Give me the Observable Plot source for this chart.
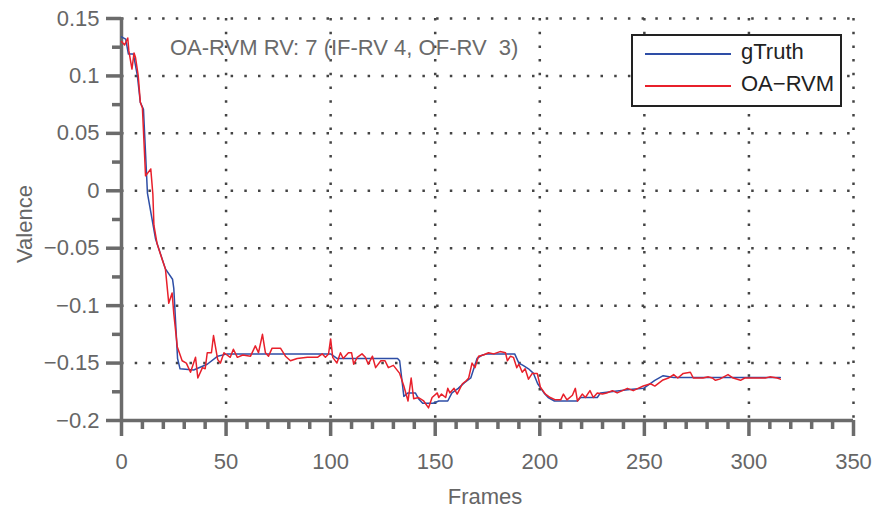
<!DOCTYPE html>
<html>
<head>
<meta charset="utf-8">
<script src="https://cdn.jsdelivr.net/npm/d3@7"></script>
<script src="https://cdn.jsdelivr.net/npm/@observablehq/plot@0.6"></script>
<style>
  html, body { margin: 0; padding: 0; background: #fff; }
  #wrap { position: relative; width: 877px; height: 511px; font-family: "Liberation Sans", Arial, sans-serif; overflow: hidden; }
  .ov { position: absolute; white-space: pre; }
</style>
</head>
<body>
<div id="wrap"></div>
<script>
// ---- data ----
const gtFrames = [0, 2, 3.3, 5.7, 7.6, 9, 10.5, 12.4, 16.3, 21, 24.4, 25, 26.8, 28, 34.5, 41, 46, 50.6, 100, 103, 132, 133, 135, 137, 140.5, 142, 144, 149, 151.7, 156, 158, 161, 164, 167, 170, 172.5, 175, 188, 190, 192, 194.6, 197, 199, 202, 204, 207, 218, 219.5, 227.5, 229, 243, 249.6, 255, 259, 264, 315];
const gtValues = [0.134, 0.132, 0.119, 0.119, 0.100, 0.077, 0.071, -0.002, -0.042, -0.068, -0.077, -0.085, -0.146, -0.155, -0.156, -0.151, -0.144, -0.142, -0.142, -0.146, -0.146, -0.148, -0.179, -0.176, -0.176, -0.181, -0.185, -0.185, -0.183, -0.183, -0.176, -0.172, -0.167, -0.163, -0.146, -0.143, -0.142, -0.142, -0.150, -0.152, -0.155, -0.159, -0.168, -0.176, -0.180, -0.183, -0.183, -0.180, -0.180, -0.176, -0.173, -0.172, -0.165, -0.161, -0.1625, -0.1625];

const rvmFrames = [0, 1.5, 3, 3.5, 5, 6, 6.7, 8, 9, 10, 11.5, 14, 15, 15.5, 17, 19.5, 21, 22.6, 24.2, 25, 26.7, 29, 31, 33, 35.4, 36.5, 38.7, 40, 41, 43, 44, 46, 47.3, 49, 52, 53.5, 55.4, 58, 61.7, 64, 65.5, 67.4, 68.8, 70.3, 72, 76, 78.4, 80.8, 84, 88.9, 93.7, 96, 97.5, 99, 100, 101, 103, 104.7, 106, 108.5, 110, 111, 112.7, 115, 116.6, 118, 120, 121.5, 124, 126, 127.6, 130, 133, 135, 137, 138.5, 139.7, 142, 144.5, 146.8, 148.5, 151, 151.7, 153, 155, 156, 157, 159, 160.5, 163, 164.5, 166, 167.6, 169, 170.7, 173, 175.5, 178, 181, 183.6, 184.5, 186, 187.4, 189, 190, 191.6, 193, 194.6, 196.4, 198.8, 200.3, 202.7, 205, 207.5, 210, 211.3, 213, 215.6, 217, 218, 220.3, 221.8, 224, 225.6, 227.5, 229.9, 232, 234.7, 237, 239.5, 241.9, 244.7, 247, 249.5, 253, 255, 258.6, 261.5, 264, 266, 268.6, 272, 273.4, 278, 280.6, 282.5, 284, 286, 290, 292.5, 296, 298, 302, 307.8, 310, 313.5, 315];
const rvmValues = [0.130, 0.127, 0.133, 0.122, 0.106, 0.120, 0.116, 0.100, 0.077, 0.072, 0.013, 0.019, -0.003, -0.030, -0.046, -0.060, -0.068, -0.098, -0.089, -0.107, -0.136, -0.148, -0.150, -0.158, -0.145, -0.163, -0.154, -0.155, -0.141, -0.141, -0.126, -0.147, -0.150, -0.141, -0.145, -0.138, -0.145, -0.143, -0.144, -0.135, -0.141, -0.125, -0.141, -0.144, -0.137, -0.137, -0.144, -0.148, -0.146, -0.145, -0.145, -0.142, -0.145, -0.142, -0.129, -0.145, -0.150, -0.141, -0.146, -0.141, -0.141, -0.151, -0.145, -0.142, -0.145, -0.151, -0.144, -0.154, -0.148, -0.148, -0.154, -0.152, -0.159, -0.170, -0.183, -0.163, -0.181, -0.180, -0.183, -0.189, -0.180, -0.176, -0.180, -0.177, -0.180, -0.172, -0.176, -0.172, -0.177, -0.168, -0.166, -0.163, -0.150, -0.154, -0.144, -0.143, -0.141, -0.142, -0.140, -0.141, -0.148, -0.144, -0.145, -0.154, -0.151, -0.158, -0.155, -0.164, -0.159, -0.159, -0.171, -0.177, -0.180, -0.182, -0.182, -0.177, -0.182, -0.178, -0.172, -0.183, -0.177, -0.180, -0.174, -0.180, -0.176, -0.177, -0.176, -0.174, -0.176, -0.174, -0.172, -0.174, -0.172, -0.170, -0.168, -0.170, -0.165, -0.163, -0.160, -0.163, -0.159, -0.158, -0.163, -0.163, -0.162, -0.163, -0.165, -0.164, -0.160, -0.163, -0.165, -0.163, -0.163, -0.163, -0.162, -0.163, -0.164];

const xTicks = [0, 50, 100, 150, 200, 250, 300, 350];
const xMinorTicks = [10, 20, 30, 40, 60, 70, 80, 90, 110, 120, 130, 140, 160, 170, 180, 190, 210, 220, 230, 240, 260, 270, 280, 290, 310, 320, 330, 340];
const yTicks = [-0.2, -0.15, -0.1, -0.05, 0, 0.05, 0.1, 0.15];
const yMinorTicks = [-0.175, -0.125, -0.075, -0.025, 0.025, 0.075, 0.125];
const seriesNames = ["gTruth", "OA\u2212RVM"];
const annotation = "OA-RVM RV: 7 (IF-RV 4, OF-RV  3)";
const xLabel = "Frames";
const yLabel = "Valence";

// ---- build ----
const gt = gtFrames.map((f, i) => ({f, v: gtValues[i]}));
const rvm = rvmFrames.map((f, i) => ({f, v: rvmValues[i]}));
const axisGray = "#6b6b6b";
const textGray = "#666";
const blue = "#2e4ea6";
const red = "#e8202b";
const fmt = d3.format("");

const chart = Plot.plot({
  width: 877,
  height: 511,
  marginLeft: 121,
  marginRight: 24,
  marginTop: 18,
  marginBottom: 91,
  style: {fontFamily: "Liberation Sans, Arial, sans-serif", background: "transparent", overflow: "visible"},
  x: {domain: [0, 350]},
  y: {domain: [-0.2, 0.15]},
  marks: [
    Plot.gridY({ticks: yTicks.filter(d => d > -0.2), stroke: "#444", strokeOpacity: 1, strokeWidth: 2.5, strokeDasharray: "2.5,11.2"}),
    Plot.gridX({ticks: xTicks.filter(d => d > 0), stroke: "#444", strokeOpacity: 1, strokeWidth: 2.5, strokeDasharray: "2.5,11.2"}),
    Plot.axisX({ticks: xMinorTicks, tickSize: 9, text: null, stroke: axisGray, strokeWidth: 3.5, label: null}),
    Plot.axisX({ticks: xTicks, tickSize: 16, tickPadding: 17, tickFormat: fmt, fontSize: 22, fill: textGray, stroke: axisGray, strokeWidth: 3.5, label: null}),
    Plot.axisY({ticks: yMinorTicks, tickSize: 9, text: null, stroke: axisGray, strokeWidth: 3.5, label: null}),
    Plot.axisY({ticks: yTicks, tickSize: 15, tickPadding: 7, tickFormat: fmt, fontSize: 22, fill: textGray, stroke: axisGray, strokeWidth: 3.5, label: null}),
    Plot.ruleX([0], {stroke: axisGray, strokeWidth: 3.5}),
    Plot.ruleY([-0.2], {stroke: axisGray, strokeWidth: 3.5}),
    Plot.line(gt, {x: "f", y: "v", stroke: blue, strokeWidth: 1.5}),
    Plot.line(rvm, {x: "f", y: "v", stroke: red, strokeWidth: 1.5})
  ]
});

const wrap = document.getElementById("wrap");
wrap.appendChild(chart);
chart.style.position = "absolute";
chart.style.left = "0px";
chart.style.top = "0px";

function ov(text, css) {
  const d = document.createElement("div");
  d.className = "ov";
  d.textContent = text;
  Object.assign(d.style, css);
  wrap.appendChild(d);
  return d;
}

ov(annotation, {left: "170px", top: "35px", fontSize: "22px", color: "#6a6a6a"});
ov(xLabel, {left: "485px", top: "484px", fontSize: "22px", color: textGray, transform: "translateX(-50%)"});
ov(yLabel, {left: "25px", top: "224px", fontSize: "22px", color: textGray, transform: "translate(-50%,-50%) rotate(-90deg)"});

// legend
const lg = document.createElement("div");
Object.assign(lg.style, {position: "absolute", left: "631px", top: "34px", width: "207px", height: "69px", border: "2px solid #222", background: "#fff"});
wrap.appendChild(lg);
[blue, red].forEach((c, i) => {
  const ln = document.createElement("div");
  Object.assign(ln.style, {position: "absolute", left: "12px", top: (17 + i * 32) + "px", width: "86px", height: "0", borderTop: "2px solid " + c});
  lg.appendChild(ln);
  const t = document.createElement("div");
  t.textContent = seriesNames[i];
  Object.assign(t.style, {position: "absolute", left: "108px", top: (3 + i * 32) + "px", fontSize: "22px", color: "#222", whiteSpace: "pre"});
  lg.appendChild(t);
});
</script>
</body>
</html>
